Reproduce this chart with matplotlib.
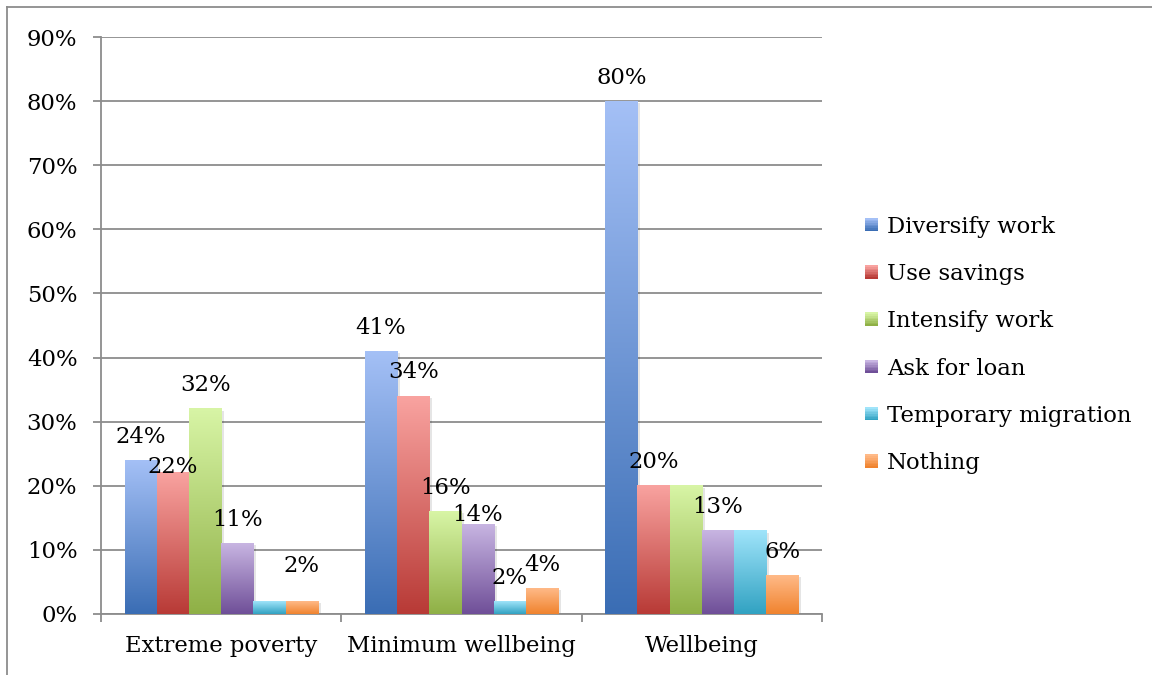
import matplotlib
matplotlib.use('Agg')
import matplotlib.pyplot as plt
import numpy as np
from matplotlib.patches import Rectangle
from matplotlib.lines import Line2D
from matplotlib.legend_handler import HandlerBase
from matplotlib.colors import LinearSegmentedColormap

# coping strategies by wellbeing group (% of households)
categories = ['Extreme poverty', 'Minimum wellbeing', 'Wellbeing']
series = ['Diversify work', 'Use savings', 'Intensify work', 'Ask for loan',
          'Temporary migration', 'Nothing']
diversify_work = [24, 41, 80]
use_savings = [22, 34, 20]
intensify_work = [32, 16, 20]
ask_for_loan = [11, 14, 13]
temporary_migration = [2, 2, 13]
nothing = [2, 4, 6]
values = [diversify_work, use_savings, intensify_work, ask_for_loan,
          temporary_migration, nothing]

# which data labels are shown (series x category)
show_label = [[True, True, True],
              [True, True, True],
              [True, True, False],
              [True, True, True],
              [False, True, False],
              [True, True, True]]
# label offsets above the bar top (points), a few were nudged by hand
label_offset = np.full((6, 3), 17.0)
label_offset[1][0] = 4.5
label_offset[3][1] = 7.0
label_offset[5][0] = 25.0

# top (light) / bottom (dark) colours for the gradient fill
grad_colors = [('#a4c0f6', '#3a6db4'),
               ('#f9a3a0', '#b83a36'),
               ('#d8f5a6', '#8fb046'),
               ('#c8b5e2', '#6f4f98'),
               ('#a0e4fa', '#31a2c2'),
               ('#ffba88', '#f0832e')]

plt.rcParams['font.family'] = ['DejaVu Serif']
FS = 16.4

fig = plt.figure(figsize=(11.52, 6.75), dpi=100)
ax = fig.add_axes([101 / 1152, 61 / 675, 721 / 1152, 577 / 675])

bar_w = 0.134
x = np.arange(len(categories))
grad = np.linspace(0, 1, 256).reshape(-1, 1)

for i, name in enumerate(series):
    top, bottom = grad_colors[i]
    cmap = LinearSegmentedColormap.from_list(name, [bottom, top])
    for j, v in enumerate(values[i]):
        x0 = x[j] + (i - 2.5) * bar_w - bar_w / 2
        # soft shadow on the right side
        ax.add_patch(Rectangle((x0 + 0.012, 0), bar_w, v - 0.3, color='#000000',
                               alpha=0.10, lw=0, zorder=2.5))
        ax.imshow(grad, cmap=cmap, extent=[x0, x0 + bar_w, 0, v], origin='lower',
                  aspect='auto', zorder=3, interpolation='bilinear')
        if show_label[i][j]:
            ax.annotate(f'{v}%', (x0 + bar_w / 2, v), xytext=(0, label_offset[i][j]),
                        textcoords='offset points', ha='center', va='center',
                        fontsize=FS, color='black', zorder=5)

ax.set_xlim(-0.5, 2.5)
ax.set_ylim(0, 90)

grid_c = '#8c8c8c'
ax.set_yticks(np.arange(0, 91, 10))
ax.set_yticklabels([f'{v}%' for v in range(0, 91, 10)], fontsize=FS)
ax.yaxis.grid(True, color=grid_c, lw=1.3, zorder=1)
ax.set_axisbelow(True)
ax.tick_params(axis='y', direction='out', length=6, width=1.3, color=grid_c, pad=11)

ax.set_xticks([-0.5, 0.5, 1.5, 2.5])
ax.set_xticklabels([])
ax.tick_params(axis='x', which='major', direction='out', length=6, width=1.3, color=grid_c)
ax.set_xticks(x, minor=True)
ax.set_xticklabels(categories, minor=True, fontsize=FS)
ax.tick_params(axis='x', which='minor', length=0, pad=15)

for s in ['top', 'right']:
    ax.spines[s].set_visible(False)
for s in ['left', 'bottom']:
    ax.spines[s].set_color(grid_c)
    ax.spines[s].set_linewidth(1.3)


# gradient squares in the legend
class GradientHandler(HandlerBase):
    def __init__(self, colors):
        super().__init__()
        self.colors = colors

    def create_artists(self, legend, orig_handle, xdescent, ydescent, width, height,
                       fontsize, trans):
        top, bottom = self.colors[orig_handle.get_label()]
        cmap = LinearSegmentedColormap.from_list('h', [bottom, top])
        size = 13 * 72 / 100
        x0 = xdescent + width - size
        y0 = -ydescent + (height - size) / 2
        n = 8
        arts = []
        for k in range(n):
            arts.append(Rectangle((x0, y0 + k * size / n), size, size / n + 0.3,
                                  facecolor=cmap(k / (n - 1)), lw=0, transform=trans))
        return arts


handles = [Rectangle((0, 0), 1, 1, label=s) for s in series]
fig.legend(handles=handles, labels=series, loc='center left',
           bbox_to_anchor=(837 / 1152, 0.489), frameon=False, fontsize=FS,
           handlelength=0.9, handletextpad=0.4, labelspacing=1.11,
           handler_map={Rectangle: GradientHandler(dict(zip(series, grad_colors)))})

# chart border
fig.add_artist(Line2D([7 / 1152, 7 / 1152], [0, 668 / 675], color='#8c8c8c', lw=1.3))
fig.add_artist(Line2D([7 / 1152, 1], [668 / 675, 668 / 675], color='#8c8c8c', lw=1.3))

fig.savefig('out.png', dpi=100)
